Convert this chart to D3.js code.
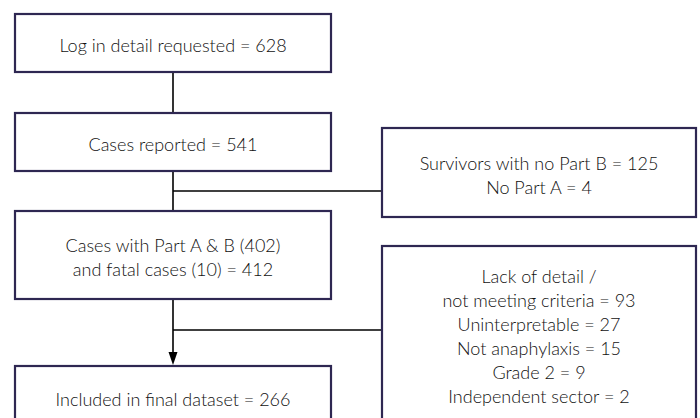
<!DOCTYPE html>
<html>
<head>
<meta charset="utf-8">
<script src="https://cdn.jsdelivr.net/npm/d3@7.9.0/dist/d3.min.js"></script>
<style>
  body { margin: 0; background: #fff; }
  svg { display: block; }
  text { font-family: Lato, sans-serif; font-size: 18px; fill: #111; font-weight: 300; }
</style>
</head>
<body>
<svg width="700" height="418"></svg>
<script>
// main column steps
const mainSteps = [
  ["Log in detail requested = 628"],
  ["Cases reported = 541"],
  ["Cases with Part A & B (402)", "and fatal cases (10) = 412"],
  ["Included in final dataset = 266"]
];
// exclusions, branching off after step index
const exclusions = [
  ["Survivors with no Part B = 125", "No Part A = 4"],
  ["Lack of detail /", "not meeting criteria = 93", "Uninterpretable = 27",
   "Not anaphylaxis = 15", "Grade 2 = 9", "Independent sector = 2"]
];
const exclusionAfter = [1, 2];

const svg = d3.select('svg');
const border = '#2e2752';
const lineH = 24;

// layout
const mainX = { x0: 15, x1: 331 };
const sideX = { x0: 382, x1: 696 };
const mainBoxes = [
  { y0: 14, y1: 72 },
  { y0: 113, y1: 171 },
  { y0: 211, y1: 299 },
  { y0: 366, y1: 430 }
];
const sideBoxes = [
  { y0: 128, y1: 217, textMid: 175 },
  { y0: 246, y1: 430, textMid: 336 }
];
const mainTextMid = [45, 144, 257, 399];
const cx = (mainX.x0 + mainX.x1) / 2;
const sx = (sideX.x0 + sideX.x1) / 2;

// connectors
const conn = svg.append('g').attr('stroke', '#000').attr('stroke-width', 1.6).attr('fill', 'none');
d3.range(mainBoxes.length - 1).forEach(i => {
  const last = i === mainBoxes.length - 2;
  conn.append('line')
    .attr('x1', cx).attr('x2', cx)
    .attr('y1', mainBoxes[i].y1)
    .attr('y2', last ? mainBoxes[i + 1].y0 - 12 : mainBoxes[i + 1].y0);
  if (last) {
    svg.append('path')
      .attr('d', d3.line()([[cx - 4.5, mainBoxes[i + 1].y0 - 14], [cx + 4.5, mainBoxes[i + 1].y0 - 14], [cx, mainBoxes[i + 1].y0 - 1]]))
      .attr('fill', '#000');
  }
});
const branchY = [191, 330];
exclusionAfter.forEach((a, i) => {
  conn.append('line')
    .attr('x1', cx).attr('x2', sideX.x0)
    .attr('y1', branchY[i]).attr('y2', branchY[i]);
});

function drawBox(b, xr, lines, mid, tx) {
  svg.append('rect')
    .attr('x', xr.x0).attr('y', b.y0)
    .attr('width', xr.x1 - xr.x0).attr('height', b.y1 - b.y0)
    .attr('fill', '#fff').attr('stroke', border).attr('stroke-width', 2.2);
  const t = svg.append('text').attr('text-anchor', 'middle');
  const first = mid - (lines.length - 1) * lineH / 2;
  lines.forEach((l, i) => {
    t.append('tspan').attr('x', tx).attr('y', first + i * lineH)
      .attr('dominant-baseline', 'central').text(l);
  });
}

mainSteps.forEach((s, i) => drawBox(mainBoxes[i], mainX, s, mainTextMid[i], cx));
exclusions.forEach((s, i) => drawBox(sideBoxes[i], sideX, s, sideBoxes[i].textMid, sx));
</script>
</body>
</html>
